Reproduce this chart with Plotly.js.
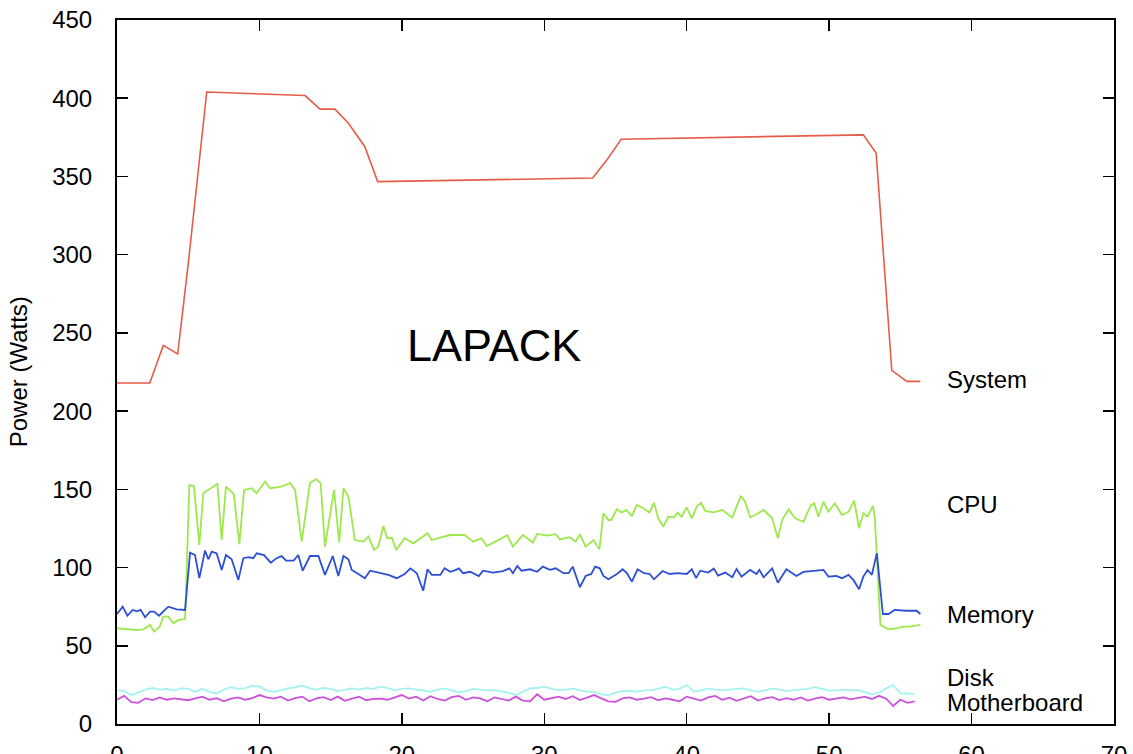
<!DOCTYPE html>
<html>
<head>
<meta charset="utf-8">
<script src="https://cdn.plot.ly/plotly-3.0.1.min.js"></script>
<style>html,body{margin:0;padding:0;background:#fff;}#chart{width:1133px;height:754px;}</style>
</head>
<body>
<div id="chart"></div>
<script>
// ---- Data ----
var seriesNames = ["System", "CPU", "Memory", "Disk", "Motherboard"];

var systemX = [0, 2.3, 3.25, 4.26, 5.0, 6.3, 13.2, 14.26, 15.3, 16.25, 17.4, 18.3, 33.4, 34.4, 35.4, 52.4, 53.3, 54.4, 55.45, 56.4];
var systemY = [218, 218, 242, 236.5, 294, 404, 401.7, 393, 393, 384, 369, 346.7, 349, 360.6, 373.8, 376.6, 365, 226, 219, 219];

var cpuX = [0, 0.68, 1.38, 1.85, 2.32, 2.6, 3.0, 3.25, 3.6, 3.96, 4.3, 4.78, 5.08, 5.4, 5.78, 6.06, 7.05, 7.35, 7.65, 8.2,
  8.59, 8.92, 9.45, 9.8, 10.4, 10.75, 11.45, 12.15, 12.5, 12.97, 13.55, 13.97, 14.3, 14.6, 15.24, 15.6, 15.9, 16.25, 16.7, 17.3,
  17.65, 18.05, 18.35, 18.7, 18.98, 19.3, 19.6, 20.2, 20.8, 21.8, 22.1, 22.5, 23.4, 24.4, 25.0, 25.6, 25.96, 26.7, 27.4, 27.8,
  28.5, 29.2, 29.5, 30.2, 30.8, 31.1, 31.8, 32.2, 32.5, 32.9, 33.45, 33.87, 34.15, 34.5, 34.7, 35.1, 35.44, 35.75, 36.15, 36.5,
  36.96, 37.4, 37.7, 38.0, 38.36, 38.7, 39.1, 39.35, 39.65, 40.0, 40.36, 40.7, 41.0, 41.3, 41.9, 42.5, 43.2, 43.5, 43.8, 44.1,
  44.45, 44.8, 45.4, 46.0, 46.4, 46.7, 47.15, 47.6, 48.2, 48.7, 48.95, 49.25, 49.6, 49.95, 50.4, 50.9, 51.36, 51.76, 52.1, 52.4,
  52.7, 53.07, 53.2, 53.6, 54.17, 54.75, 55.2, 55.65, 56.4];
var cpuY = [61.2, 60.5, 60, 60.5, 63.3, 59, 62.2, 68.6, 68.6, 64.4, 66.5, 67, 152.8, 152, 114.4, 147.5, 153.5, 117.6, 151.7, 147,
  115, 149.6, 150.7, 147.5, 155, 150.7, 151.5, 154, 149.6, 116.6, 154, 156.5, 154, 113.4, 149.6, 116, 150.7, 145.3, 117.6, 116.6,
  119.8, 111.3, 113.4, 126.6, 118.7, 119, 111.3, 118.7, 115.5, 121.9, 117.6, 118.7, 120.8, 120.8, 116.6, 118.7, 113.8, 117.2, 120.6, 113.4,
  120.8, 116, 121.5, 120.4, 121.3, 118, 119.4, 116.6, 121.3, 113.4, 117.6, 111.7, 134.7, 130.4, 130.4, 137.3, 135.1, 136.8, 133, 140,
  137.9, 135.1, 141.5, 131.5, 126.1, 132.5, 132, 135.1, 132.5, 138.5, 131.5, 138.9, 141.5, 136.2, 135.3, 136.8, 131.9, 138.9, 145.8, 142.1,
  132.1, 133.6, 136.8, 131.5, 118.7, 130.4, 137.3, 131.5, 129.3, 139.6, 141.1, 132.5, 142.1, 135.7, 141.1, 133.6, 135.7, 142.8, 125.1, 134.7,
  132.5, 139.4, 132.5, 63.3, 60.5, 61.2, 62.2, 62.2, 63.3];

var memX = [0, 0.4, 0.73, 1.1, 1.4, 1.66, 1.97, 2.32, 2.6, 2.95, 3.6, 4.2, 4.78, 5.13, 5.48, 5.78, 6.18, 6.41, 6.65, 7.0,
  7.35, 7.65, 8.05, 8.52, 8.87, 9.22, 9.57, 9.81, 10.32, 10.8, 11.2, 11.56, 11.87, 12.4, 12.73, 13.04, 13.55, 14.14, 14.6, 15.15,
  15.54, 15.9, 16.25, 16.48, 16.95, 17.4, 17.77, 18.47, 19.05, 19.64, 20.2, 20.6, 21.05, 21.5, 21.8, 22.1, 22.7, 23.0, 23.4, 23.8,
  24.0, 24.3, 24.8, 25.4, 25.7, 26.4, 27.1, 27.55, 27.8, 28.1, 28.4, 29.0, 29.5, 29.9, 30.4, 30.8, 31.35, 31.7, 32.0, 32.5,
  32.9, 33.3, 33.57, 33.9, 34.15, 34.5, 35.1, 35.5, 35.8, 36.15, 36.55, 37.0, 37.4, 37.7, 38.3, 38.8, 39.35, 40.0, 40.36, 40.66,
  40.95, 41.5, 41.9, 42.2, 42.7, 43.2, 43.5, 43.85, 44.45, 44.9, 45.1, 45.4, 46.0, 46.4, 47.0, 47.7, 48.2, 49.6, 49.95, 50.5,
  50.9, 51.36, 51.7, 52.1, 52.4, 52.7, 53.0, 53.35, 53.77, 54.17, 54.6, 55.4, 56.15, 56.4];
var memY = [70.3, 75, 69.2, 72.9, 72, 73, 68.2, 71.8, 71.8, 69.2, 75, 73.3, 72.9, 109.5, 108, 93.2, 110.8, 105.3, 110.2, 109,
  98.5, 108, 105.3, 92.1, 106, 106.6, 106, 109.1, 108, 103.1, 106, 107.3, 104.4, 104.4, 108, 98, 107.4, 107.4, 95.3, 107.4,
  94.6, 107.4, 105.3, 98.5, 95.9, 93.2, 98, 96.4, 95.3, 93.2, 95.9, 99.5, 96.4, 85.2, 98.9, 95.3, 95.3, 99.5, 97.3, 98.5,
  99.5, 96.4, 97.3, 94.6, 98, 96.8, 97.7, 99.5, 96.4, 101, 98, 98.9, 97.3, 100.6, 98.5, 99.5, 96.4, 96.4, 100.6, 87.4,
  94.6, 95.9, 100.6, 99.5, 94.6, 92.5, 95.9, 98.9, 96.4, 91, 98.9, 96.4, 95.9, 92.5, 97.8, 95.9, 96.4, 95.9, 98.9, 93.2,
  98, 96.8, 99.3, 94.8, 96.8, 93.8, 99.1, 94.2, 98.5, 95.9, 98.5, 93.8, 99.5, 90.3, 98.9, 94.6, 97.2, 98.5, 94.2, 94.6,
  93.2, 95.3, 92.1, 86.1, 94.2, 98.5, 95.3, 109.1, 70.3, 70.3, 72.9, 72.4, 72.4, 70.3];

var lowX = [0, 0.5, 1, 1.5, 2, 2.5, 3, 3.5, 4, 4.5, 5, 5.5, 6, 6.5, 7, 7.5, 8, 8.5, 9, 9.5,
  10, 10.5, 11, 11.5, 12, 12.5, 13, 13.5, 14, 14.5, 15, 15.5, 16, 16.5, 17, 17.5, 18, 18.5, 19, 19.5,
  20, 20.5, 21, 21.5, 22, 22.5, 23, 23.5, 24, 24.5, 25, 25.5, 26, 26.5, 27, 27.5, 28, 28.5, 29, 29.5,
  30, 30.5, 31, 31.5, 32, 32.5, 33, 33.5, 34, 34.5, 35, 35.5, 36, 36.5, 37, 37.5, 38, 38.5, 39, 39.5,
  40, 40.5, 41, 41.5, 42, 42.5, 43, 43.5, 44, 44.5, 45, 45.5, 46, 46.5, 47, 47.5, 48, 48.5, 49, 49.5,
  50, 50.5, 51, 51.5, 52, 52.5, 53, 53.5, 54, 54.5, 55, 55.5, 56];
var diskY = [21.5, 21, 18.5, 20.5, 22, 23, 22, 22.5, 21.5, 22.8, 22.5, 20.5, 22.5, 20.5, 19.5, 22, 23.5, 22.5, 23, 24.5,
  24, 21.5, 20.5, 21.5, 22.8, 23.5, 24.5, 23, 22, 23, 22.5, 21, 22, 22.8, 22, 23, 22.5, 24, 23, 21.5,
  22.5, 22.8, 22, 21.5, 20.5, 22, 22.8, 21.5, 20.2, 21, 22.5, 22, 21.5, 21.7, 21, 20, 18.5, 20.5, 22.8, 23,
  23.9, 22.5, 21.7, 22, 22.8, 21.5, 20.7, 20.5, 19, 18.5, 20, 21, 21.3, 20.5, 21.5, 21.7, 22.5, 23.9, 22, 22.5,
  24.9, 20.7, 21.5, 22.8, 22, 21.7, 22, 22.5, 22.8, 21.5, 20.7, 21.5, 22.8, 22, 21, 21.7, 22, 22.5, 23.5, 22.5,
  21.3, 21.5, 22, 21.5, 21.7, 20.5, 19, 20, 22.8, 24.9, 19.6, 19.5, 19.2];
var moboY = [15.5, 18, 14, 13.5, 16.4, 15.3, 17, 15.5, 16.4, 15.8, 15.2, 16.4, 17.5, 15.5, 16.5, 14.5, 16.2, 17, 15.5, 16.5,
  18.5, 17, 16.2, 17.5, 15, 16.5, 17.5, 14.5, 16.4, 17.2, 15.3, 17.5, 14.8, 16.2, 17.5, 15.2, 16, 16.2, 15.5, 17,
  18.5, 16.2, 17.5, 15, 17.8, 16, 15, 17.2, 18, 15.5, 17, 16.4, 14.5, 17, 16, 15, 17.5, 15, 14.5, 19,
  15.5, 16.5, 17.5, 16, 17.8, 15.3, 16.8, 18.5, 16.4, 14.5, 14.2, 16.4, 17, 15.5, 16.2, 17.2, 15.2, 16.4, 15.5, 14.5,
  17.5, 16, 15, 17, 18, 15.5, 16.8, 14.8, 16.2, 17.8, 15, 16.4, 17.2, 15.3, 16.5, 15.5, 17, 15, 16.2, 17.2,
  15.5, 16.4, 17, 15.8, 16.5, 17.5, 16, 18, 16.2, 11.5, 15.5, 13.5, 14.5];

var xTicks = [0, 10, 20, 30, 40, 50, 60, 70];
var yTicks = [0, 50, 100, 150, 200, 250, 300, 350, 400, 450];
var chartLabel = "LAPACK";
var yTitle = "Power (Watts)";
// label anchor values (data units) for the series names at the right
var labelX = 58.1;
var labelY = [220, 140, 69.7, 29.6, 13.8];

var colors = ["#e65c4a", "#9de84c", "#2c4fd6", "#a2f2f2", "#cc52da"];

var traces = [
  {x: systemX, y: systemY, name: seriesNames[0], mode: "lines", line: {color: colors[0], width: 1.6}},
  {x: cpuX, y: cpuY, name: seriesNames[1], mode: "lines", line: {color: colors[1], width: 1.8}},
  {x: memX, y: memY, name: seriesNames[2], mode: "lines", line: {color: colors[2], width: 1.8}},
  {x: lowX, y: diskY, name: seriesNames[3], mode: "lines", line: {color: colors[3], width: 1.8}},
  {x: lowX, y: moboY, name: seriesNames[4], mode: "lines", line: {color: colors[4], width: 1.8}}
];

var font = "Liberation Sans, Arial, Helvetica, sans-serif";
var annotations = [];
for (var i = 0; i < seriesNames.length; i++) {
  annotations.push({x: labelX, y: labelY[i], xref: "x", yref: "y", text: seriesNames[i], showarrow: false,
    xanchor: "left", yanchor: "middle", font: {family: font, size: 24, color: "#000"}});
}
annotations.push({x: 26.5, y: 242, xref: "x", yref: "y", text: chartLabel, showarrow: false,
  xanchor: "center", yanchor: "middle", font: {family: font, size: 45, color: "#000"}});
annotations.push({x: -0.099, y: 0.5, xref: "paper", yref: "paper", text: yTitle, showarrow: false, textangle: -90,
  xanchor: "center", yanchor: "middle", font: {family: font, size: 24, color: "#000"}});

var axisCommon = {
  showgrid: false, zeroline: false, showline: true, linecolor: "#000", linewidth: 2,
  mirror: "allticks", ticks: "inside", ticklen: 11, tickwidth: 1.5, tickcolor: "#000",
  tickfont: {family: font, size: 24, color: "#000"}
};

var layout = {
  width: 1133, height: 754,
  margin: {l: 117, r: 19, t: 20, b: 30, pad: 0},
  paper_bgcolor: "#fff", plot_bgcolor: "#fff",
  showlegend: false,
  xaxis: Object.assign({}, axisCommon, {range: [0, 70], tickvals: xTicks, ticklabelstandoff: 8}),
  yaxis: Object.assign({}, axisCommon, {range: [0, 450], tickvals: yTicks, ticklabelstandoff: 18}),
  annotations: annotations
};

Plotly.newPlot("chart", traces, layout, {displayModeBar: false, staticPlot: true});
</script>
</body>
</html>
